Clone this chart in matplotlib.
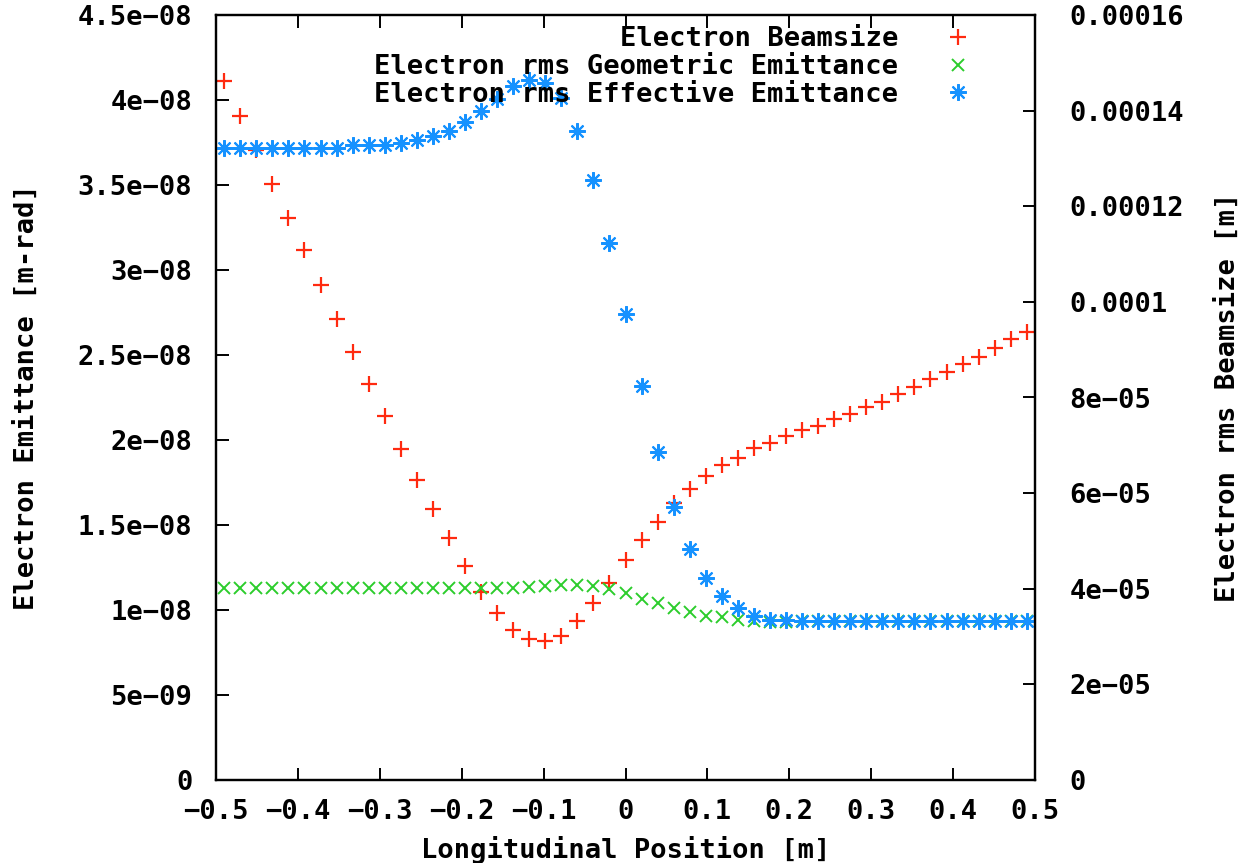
import numpy as np
import matplotlib
matplotlib.use("Agg")
import matplotlib.pyplot as plt

# Sampling positions along the beam line [m]
position = np.round(np.linspace(-0.49, 0.49, 51), 4)

# Electron rms beamsize [m] (right axis), in units of 1e-5
beamsize_e5 = [14.61, 13.88, 13.18, 12.46, 11.76, 11.09, 10.35, 9.64, 8.96, 8.28,
               7.62, 6.92, 6.28, 5.66, 5.06, 4.48, 3.94, 3.49, 3.14, 2.94,
               2.91, 3.02, 3.33, 3.71, 4.13, 4.60, 5.02, 5.39, 5.80, 6.09,
               6.36, 6.59, 6.73, 6.94, 7.04, 7.20, 7.31, 7.41, 7.55, 7.66,
               7.81, 7.91, 8.08, 8.23, 8.38, 8.54, 8.70, 8.84, 9.03, 9.22, 9.38]

# Electron rms geometric emittance [m-rad] (left axis), in units of 1e-8
geometric_e8 = [1.129, 1.129, 1.129, 1.129, 1.129, 1.129, 1.129, 1.129, 1.129, 1.129,
                1.129, 1.129, 1.129, 1.129, 1.129, 1.129, 1.129, 1.129, 1.129, 1.133,
                1.140, 1.145, 1.145, 1.140, 1.125, 1.100, 1.063, 1.040, 1.010, 0.991,
                0.966, 0.957, 0.942, 0.935, 0.932, 0.932, 0.935, 0.935, 0.935, 0.935,
                0.935, 0.935, 0.935, 0.935, 0.935, 0.935, 0.935, 0.935, 0.935, 0.935, 0.935]

# Electron rms effective emittance [m-rad] (left axis), in units of 1e-8
effective_e8 = [3.720, 3.720, 3.720, 3.720, 3.720, 3.720, 3.720, 3.720, 3.733, 3.733,
                3.733, 3.746, 3.765, 3.790, 3.818, 3.870, 3.936, 4.005, 4.080, 4.117,
                4.100, 4.010, 3.818, 3.530, 3.160, 2.742, 2.320, 1.930, 1.606, 1.359,
                1.188, 1.080, 1.011, 0.965, 0.942, 0.942, 0.935, 0.935, 0.935, 0.935,
                0.935, 0.935, 0.935, 0.935, 0.935, 0.935, 0.935, 0.935, 0.935, 0.935, 0.935]

x_ticks = [-0.5, -0.4, -0.3, -0.2, -0.1, 0.0, 0.1, 0.2, 0.3, 0.4, 0.5]
x_tick_labels = ["\u22120.5", "\u22120.4", "\u22120.3", "\u22120.2", "\u22120.1",
                 "0", "0.1", "0.2", "0.3", "0.4", "0.5"]
left_ticks = [0, 5e-9, 1e-8, 1.5e-8, 2e-8, 2.5e-8, 3e-8, 3.5e-8, 4e-8, 4.5e-8]
left_tick_labels = ["0", "5e\u221209", "1e\u221208", "1.5e\u221208", "2e\u221208",
                    "2.5e\u221208", "3e\u221208", "3.5e\u221208", "4e\u221208", "4.5e\u221208"]
right_ticks = [0, 2e-5, 4e-5, 6e-5, 8e-5, 1e-4, 1.2e-4, 1.4e-4, 1.6e-4]
right_tick_labels = ["0", "2e\u221205", "4e\u221205", "6e\u221205", "8e\u221205",
                     "0.0001", "0.00012", "0.00014", "0.00016"]

beamsize = np.array(beamsize_e5) * 1e-5
geometric = np.array(geometric_e8) * 1e-8
effective = np.array(effective_e8) * 1e-8

FONT = "DejaVu Sans Mono"
FS = 19.5
plt.rcParams["font.family"] = [FONT, "DejaVu Sans"]
plt.rcParams["font.weight"] = "bold"

W, H = 1239, 863
fig = plt.figure(figsize=(W / 100, H / 100), dpi=100)
fig.patch.set_facecolor("white")

x0, x1, ytop, ybot = 216, 1035, 15, 780
ax = fig.add_axes([x0 / W, 1 - ybot / H, (x1 - x0) / W, (ybot - ytop) / H])
ax2 = ax.twinx()

red = "#ff2a10"
green = "#2ccd2c"
blue = "#1692ff"

h_b, = ax2.plot(position, beamsize, linestyle="none", marker="+", markersize=11,
                markeredgewidth=1.6, color=red, label="Electron Beamsize")
h_g, = ax.plot(position, geometric, linestyle="none", marker="x", markersize=9,
               markeredgewidth=1.4, color=green, label="Electron rms Geometric Emittance")
h_e, = ax.plot(position, effective, linestyle="none", marker=(8, 2, 0), markersize=12,
               markeredgewidth=1.5, color=blue, label="Electron rms Effective Emittance")
ax.set_zorder(ax2.get_zorder() + 1)
ax.patch.set_visible(False)

ax.set_xlim(-0.5, 0.5)
ax.set_ylim(0, 4.5e-8)
ax2.set_ylim(0, 1.6e-4)

ax.set_xticks(x_ticks)
ax.set_xticklabels(x_tick_labels)
ax.set_yticks(left_ticks)
ax.set_yticklabels(left_tick_labels)
ax2.set_yticks(right_ticks)
ax2.set_yticklabels(right_tick_labels)

ax.tick_params(axis="x", direction="in", length=9, width=1.4, top=True,
               labelsize=FS, pad=14)
ax.tick_params(axis="y", direction="in", length=9, width=1.4, right=False,
               labelsize=FS, pad=17)
ax2.tick_params(axis="y", direction="in", length=9, width=1.4,
                labelsize=FS, pad=25)
for a in (ax, ax2):
    for s in a.spines.values():
        s.set_linewidth(1.6)
        s.set_color("black")

fig.text(626 / W, 1 - 850 / H, "Longitudinal Position [m]",
         ha="center", va="center", fontsize=FS)
fig.text(27 / W, 1 - 397 / H, "Electron Emittance [m-rad]", rotation=90,
         ha="center", va="center", fontsize=FS)
fig.text(1228 / W, 1 - 397 / H, "Electron rms Beamsize [m]", rotation=90,
         ha="center", va="center", fontsize=FS)

leg = ax.legend(handles=[h_b, h_g, h_e], loc="upper right", markerfirst=False,
                frameon=False, numpoints=1, fontsize=FS, handlelength=3.0,
                handletextpad=0.7, labelspacing=0.06, borderpad=0,
                borderaxespad=0, bbox_to_anchor=(0.955, 0.985))

fig.savefig("out.png", dpi=100, facecolor="white")
